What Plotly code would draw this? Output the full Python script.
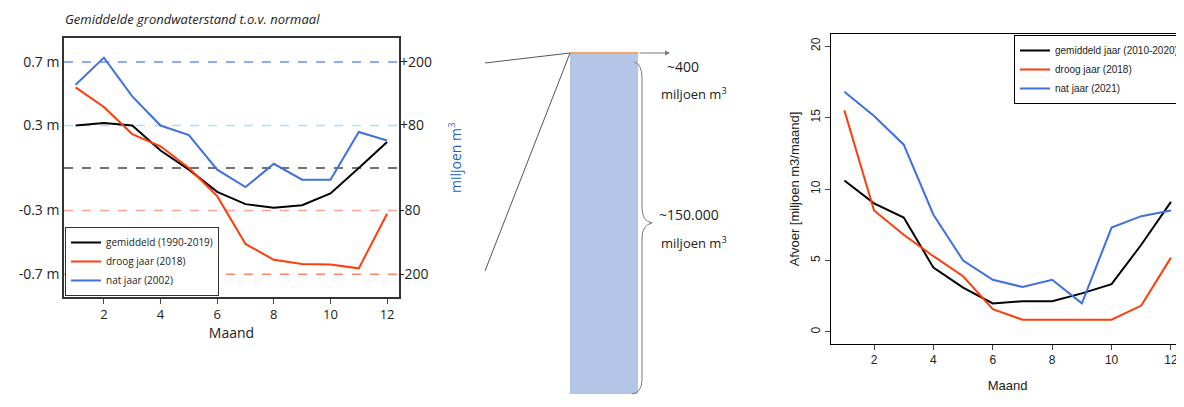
import plotly.graph_objects as go

months = list(range(1, 13))
# Left: groundwater (expressed in miljoen m3 equivalents)
gw_avg = [80, 85, 80, 33, -3, -45, -68, -75, -70, -48, 0, 49]
gw_dry = [152, 115, 64, 41, 0, -53, -143, -173, -181, -182, -189, -86]
gw_wet = [157, 208, 135, 80, 62, -3, -36, 8, -22, -22, 68, 52]
gw_tickvals = [200, 80, -80, -200]
gw_left_labels = ["0.7 m", "0.3 m", "-0.3 m", "-0.7 m"]
gw_right_labels = ["+200", "+80", "-80", "-200"]
# Right: discharge
q_avg = [10.6, 9.0, 8.0, 4.5, 3.1, 2.0, 2.15, 2.15, 2.7, 3.35, 6.1, 9.1]
q_dry = [15.5, 8.5, 6.8, 5.3, 3.9, 1.6, 0.86, 0.86, 0.86, 0.86, 1.85, 5.2]
q_wet = [16.8, 15.1, 13.1, 8.2, 5.0, 3.65, 3.15, 3.65, 2.0, 7.3, 8.1, 8.5]

W, H = 1184, 407
def px(x): return x / W
def py(y): return 1 - y / H

BLACK, RED, BLUE = "#000000", "#ff3d0a", "#3f6fe0"
LF = "Open Sans"
RF = "Liberation Sans"

fig = go.Figure()
for name, ys, c in [("gemiddeld (1990-2019)", gw_avg, BLACK), ("droog jaar (2018)", gw_dry, RED), ("nat jaar (2002)", gw_wet, BLUE)]:
    fig.add_trace(go.Scatter(x=months, y=ys, mode="lines", name=name, line=dict(color=c, width=2),
                             xaxis="x", yaxis="y", legend="legend"))
fig.add_trace(go.Scatter(x=[None], y=[None], xaxis="x", yaxis="y2", showlegend=False))
for name, ys, c in [("gemiddeld jaar (2010-2020)", q_avg, BLACK), ("droog jaar (2018)", q_dry, RED), ("nat jaar (2021)", q_wet, BLUE)]:
    fig.add_trace(go.Scatter(x=months, y=ys, mode="lines", name=name, line=dict(color=c, width=2),
                             xaxis="x3", yaxis="y3", legend="legend2"))

shapes = []
for v, c in [(200, "#6f8ff0"), (80, "#b5dcf7"), (0, "#444444"), (-80, "#f7a59a"), (-200, "#f7866f")]:
    shapes.append(dict(type="line", xref="x domain", yref="y", x0=0, x1=1, y0=v, y1=v,
                       line=dict(color=c, width=1.5, dash="dash"), layer="below"))
# middle graphic
shapes += [
    dict(type="rect", xref="paper", yref="paper", x0=px(562), x1=px(630), y0=py(386), y1=py(45),
         fillcolor="#b4c6e7", line=dict(width=0)),
    dict(type="line", xref="paper", yref="paper", x0=px(562), x1=px(630), y0=py(45), y1=py(45),
         line=dict(color="#f4a36b", width=2)),
    dict(type="line", xref="paper", yref="paper", x0=px(477), x1=px(562), y0=py(55), y1=py(45),
         line=dict(color="#555555", width=1)),
    dict(type="line", xref="paper", yref="paper", x0=px(477), x1=px(562), y0=py(263), y1=py(45),
         line=dict(color="#555555", width=1)),
    dict(type="path", xref="paper", yref="paper",
         path=f"M {px(626)},{py(54)} Q {px(634)},{py(56)} {px(634)},{py(70)} L {px(634)},{py(200)} "
              f"Q {px(634)},{py(213)} {px(644)},{py(215)} Q {px(634)},{py(217)} {px(634)},{py(230)} "
              f"L {px(634)},{py(372)} Q {px(634)},{py(384)} {px(624)},{py(386)}",
         line=dict(color="#777777", width=1)),
]
annotations = [
    dict(text="<i>Gemiddelde grondwaterstand t.o.v. normaal</i>", xref="paper", yref="paper",
         x=px(55), y=py(11), xanchor="left", yanchor="middle", showarrow=False, font=dict(family=LF, size=13, color="#222")),
    dict(text="miljoen m<sup>3</sup>", xref="paper", yref="paper", x=px(447), y=py(150), textangle=-90,
         showarrow=False, font=dict(family=LF, size=14, color="#1f5fbf")),
    dict(text="", xref="paper", yref="paper", x=px(662), y=py(45), ax=-32, ay=0,
         showarrow=True, arrowhead=2, arrowsize=1, arrowwidth=1, arrowcolor="#777"),
    dict(text="~400", xref="paper", yref="paper", x=px(657), y=py(47), xanchor="left", showarrow=False,
         font=dict(family=LF, size=14, color="#222")),
    dict(text="miljoen m<sup>3</sup>", xref="paper", yref="paper", x=px(651), y=py(74), xanchor="left", showarrow=False,
         font=dict(family=LF, size=13, color="#222")),
    dict(text="~150.000", xref="paper", yref="paper", x=px(649), y=py(206), xanchor="left", showarrow=False,
         font=dict(family=LF, size=14, color="#222")),
    dict(text="miljoen m<sup>3</sup>", xref="paper", yref="paper", x=px(651), y=py(234), xanchor="left", showarrow=False,
         font=dict(family=LF, size=13, color="#222")),
]

fig.update_layout(
    width=W, height=H, margin=dict(l=0, r=0, t=0, b=0), paper_bgcolor="white", plot_bgcolor="white",
    shapes=shapes, annotations=annotations,
    xaxis=dict(domain=[px(56), px(391)], range=[0.59, 12.42], tickvals=[2, 4, 6, 8, 10, 12], ticks="outside",
               ticklen=5, showline=True, mirror=True, linecolor="#333", linewidth=1.5, showgrid=False, zeroline=False,
               title=dict(text="Maand", font=dict(family=LF, size=14, color="#222"), standoff=2),
               tickfont=dict(family=LF, size=13, color="#222"), anchor="y"),
    yaxis=dict(domain=[py(289), py(30)], range=[-243, 245], tickvals=gw_tickvals, ticktext=gw_left_labels,
               ticks="", showline=True, mirror=True, linecolor="#333", linewidth=1.5, showgrid=False, zeroline=False,
               tickfont=dict(family=LF, size=14, color="#222"), anchor="x"),
    yaxis2=dict(overlaying="y", side="right", range=[-243, 245], tickvals=gw_tickvals, ticktext=gw_right_labels,
                showgrid=False, zeroline=False, tickfont=dict(family=LF, size=14, color="#222"), anchor="x"),
    xaxis3=dict(domain=[px(823), px(1176)], range=[0.55, 12.44], tickvals=[2, 4, 6, 8, 10, 12], ticks="outside",
                ticklen=5, showline=True, mirror=True, linecolor="#000", linewidth=1, showgrid=False, zeroline=False,
                title=dict(text="Maand", font=dict(family=RF, size=13, color="#222"), standoff=14),
                tickfont=dict(family=RF, size=12, color="#222"), anchor="y3"),
    yaxis3=dict(domain=[py(336), py(26)], range=[-0.84, 20.84], tickvals=[0, 5, 10, 15, 20], ticks="outside",
                ticklen=5, tickangle=-90, showline=True, mirror=True, linecolor="#000", linewidth=1, showgrid=False,
                zeroline=False, title=dict(text="Afvoer [miljoen m3/maand]", font=dict(family=RF, size=13, color="#222"), standoff=6),
                tickfont=dict(family=RF, size=12, color="#222"), anchor="x3"),
    legend=dict(x=px(57), y=py(288), xanchor="left", yanchor="bottom", bgcolor="white", bordercolor="#333",
                borderwidth=1, font=dict(family=LF, size=10, color="#222"), tracegroupgap=0, itemwidth=30),
    legend2=dict(x=px(1176), y=py(27), xanchor="right", yanchor="top", bgcolor="white", bordercolor="#000",
                 borderwidth=1, font=dict(family=RF, size=10, color="#222"), tracegroupgap=0, itemwidth=30),
)
fig.write_html("out.html")
